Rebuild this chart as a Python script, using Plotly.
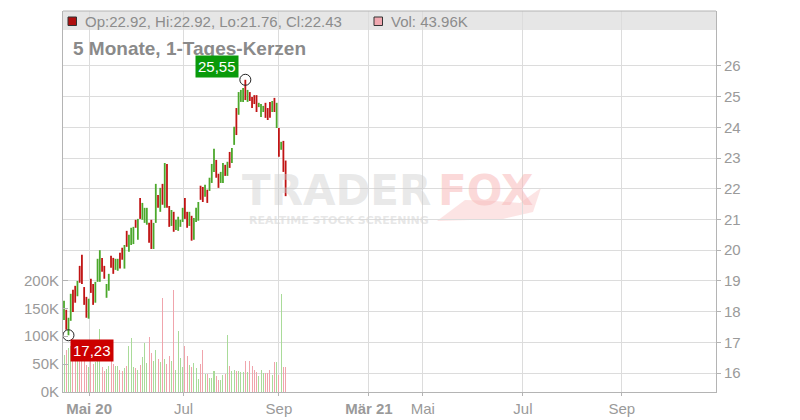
import plotly.graph_objects as go

# ---------------- data ----------------
opens = [17.80, 18.00, 17.35, 17.75, 18.65, 18.80, 18.55, 19.45, 19.80, 18.75,
         18.45, 17.85, 19.02, 18.85, 18.35, 19.02, 19.05, 19.70, 19.45, 18.50,
         18.75, 19.78, 19.70, 19.40, 19.38, 19.88, 20.05, 19.45, 20.58, 20.00,
         20.22, 20.25, 20.95, 20.40, 21.65, 21.05, 20.95, 20.88, 20.85, 20.95,
         20.10, 20.95, 21.75, 21.30, 22.10, 21.45, 22.75, 21.40, 20.85, 21.20,
         20.70, 20.68, 20.80, 20.96, 21.65, 21.20, 20.84, 21.08, 20.40, 20.97,
         21.00, 22.05, 22.02, 21.78, 21.93, 21.97, 22.24, 22.60, 22.90, 22.45,
         22.24, 22.25, 22.74, 22.46, 23.15, 22.88, 23.48, 24.58, 24.46, 24.88,
         24.88, 25.50, 24.88, 25.10, 24.95, 25.00, 25.00, 24.68, 24.38, 24.52,
         24.75, 24.58, 24.78, 24.54, 24.92, 24.02, 23.94, 23.30, 23.52, 22.92]
highs = [18.35, 18.06, 17.80, 18.58, 18.71, 18.84, 19.00, 19.49, 19.85, 18.80,
         18.48, 18.42, 19.07, 18.90, 18.97, 19.72, 20.00, 19.75, 19.49, 18.90,
         19.23, 19.82, 19.75, 19.72, 19.72, 19.92, 20.08, 20.17, 20.63, 20.50,
         20.73, 20.76, 20.99, 21.02, 21.70, 21.54, 21.38, 21.38, 20.89, 20.99,
         20.89, 22.16, 21.80, 22.03, 22.16, 22.84, 22.81, 21.44, 21.31, 21.25,
         20.99, 21.09, 20.99, 21.38, 21.70, 21.25, 21.25, 21.12, 21.05, 21.38,
         21.57, 22.10, 22.06, 22.13, 21.97, 22.36, 22.81, 23.30, 22.94, 22.49,
         22.55, 22.84, 22.78, 22.88, 23.20, 23.33, 24.02, 24.63, 25.15, 25.22,
         25.28, 25.55, 25.22, 25.15, 24.99, 25.05, 25.05, 24.80, 24.76, 24.70,
         24.80, 24.63, 24.83, 24.86, 24.96, 24.80, 23.98, 23.53, 23.56, 22.92]
lows = [17.73, 17.41, 17.23, 17.70, 17.99, 18.29, 18.50, 18.94, 18.90, 18.22,
        17.80, 17.77, 18.61, 18.22, 18.29, 18.97, 18.97, 19.30, 19.07, 18.45,
        18.68, 19.43, 19.23, 19.36, 19.33, 19.40, 19.69, 19.40, 20.11, 19.95,
        20.17, 20.20, 20.73, 20.34, 21.02, 20.99, 20.89, 20.83, 20.24, 20.04,
        20.04, 20.89, 21.38, 21.25, 21.48, 21.38, 21.38, 20.76, 20.79, 20.60,
        20.66, 20.63, 20.76, 20.92, 21.02, 20.73, 20.79, 20.31, 20.34, 20.92,
        20.96, 21.64, 21.57, 21.74, 21.54, 21.93, 22.19, 22.55, 22.36, 22.03,
        22.19, 22.19, 22.42, 22.42, 22.68, 22.84, 23.43, 23.75, 24.41, 24.83,
        24.83, 24.89, 24.83, 24.86, 24.63, 24.76, 24.50, 24.66, 24.34, 24.50,
        24.31, 24.24, 24.31, 24.50, 24.50, 23.98, 23.04, 23.27, 22.55, 21.76]
closes = [18.20, 17.55, 17.72, 18.45, 18.10, 18.35, 18.92, 19.02, 18.95, 18.30,
          17.90, 18.35, 18.68, 18.30, 18.90, 19.65, 19.90, 19.38, 19.12, 18.85,
          19.18, 19.50, 19.30, 19.66, 19.65, 19.45, 19.75, 20.10, 20.18, 20.45,
          20.68, 20.70, 20.78, 20.96, 21.08, 21.48, 21.32, 21.32, 20.30, 20.10,
          20.82, 22.05, 21.45, 21.95, 21.55, 22.75, 21.45, 20.82, 21.25, 20.66,
          20.94, 21.03, 20.95, 21.33, 21.08, 20.80, 21.20, 20.38, 20.98, 21.32,
          21.50, 21.70, 21.62, 22.08, 21.60, 22.30, 22.75, 23.20, 22.42, 22.08,
          22.50, 22.78, 22.48, 22.82, 22.74, 23.28, 23.95, 23.82, 25.08, 25.16,
          25.22, 24.95, 25.16, 24.92, 24.68, 24.80, 24.56, 24.78, 24.70, 24.66,
          24.36, 24.30, 24.36, 24.80, 24.56, 24.72, 23.10, 23.48, 22.62, 22.43]
volumes_k = [67, 76, 79, 82, 72, 66, 78, 62, 70, 55,
             48, 44, 58, 50, 54, 57, 113, 45, 38, 42,
             46, 58, 50, 47, 47, 40, 37, 43, 47, 83,
             96, 44, 43, 40, 49, 63, 87, 52, 98, 70,
             56, 75, 60, 53, 169, 60, 51, 65, 55, 183,
             40, 110, 61, 45, 82, 65, 48, 44, 52, 43,
             24, 50, 76, 32, 33, 26, 25, 37, 29, 22,
             22, 30, 33, 103, 46, 37, 40, 38, 37, 36,
             36, 56, 36, 56, 47, 40, 36, 28, 40, 34,
             34, 34, 40, 30, 54, 54, 30, 175, 45, 43.96]

tick_pos = [11.2, 53.4, 96.0, 136.2, 160.3, 205.0, 249.2]
tick_text = ["<b>Mai 20</b>", "Jul", "Sep", "<b>Mär 21</b>", "Mai", "Jul", "Sep"]
price_ticks = [16, 17, 18, 19, 20, 21, 22, 23, 24, 25, 26]
vol_ticks = [0, 50000, 100000, 150000, 200000]
vol_tick_text = ["0K", "50K", "100K", "150K", "200K"]
title_text = "5 Monate, 1-Tages-Kerzen"

# ---------------- styling ----------------
UP = "#4ca82c"
DOWN = "#c01414"
UP_VOL = "#a9db99"
DOWN_VOL = "#f0a4ac"
GRID = "#dcdcdc"
AXIS = "#b4b4b4"
TXT = "#9a9a9a"
FONT = "Liberation Sans, Arial, sans-serif"

W, H = 800, 420
ML, MR, MT, MB = 63, 84, 11, 28
PW, PH = W - ML - MR, H - MT - MB


def px(x):
    return (x - ML) / PW


def py(y):
    return (H - MB - y) / PH


idx = list(range(len(closes)))
volumes = [v * 1000 for v in volumes_k]
vol_colors = [UP_VOL if c >= o else DOWN_VOL for o, c in zip(opens, closes)]

fig = go.Figure()

fig.add_trace(go.Bar(x=idx, y=volumes, marker=dict(color=vol_colors, line=dict(width=0)),
                     width=0.45, yaxis="y", hoverinfo="skip", showlegend=False))

fig.add_trace(go.Ohlc(x=idx, open=opens, high=highs, low=lows, close=closes,
                      increasing=dict(line=dict(color=UP, width=1.8)),
                      decreasing=dict(line=dict(color=DOWN, width=1.8)),
                      tickwidth=0, yaxis="y2", hoverinfo="skip", showlegend=False))

hi_i = max(idx, key=lambda i: highs[i])
lo_i = min(idx, key=lambda i: lows[i])
fig.add_trace(go.Scatter(x=[hi_i, lo_i], y=[highs[hi_i], lows[lo_i]], mode="markers",
                         marker=dict(symbol="circle-open", size=11, color="#222",
                                     line=dict(width=1, color="#222")),
                         yaxis="y2", hoverinfo="skip", showlegend=False))

shapes = [
    dict(type="rect", xref="paper", yref="paper", x0=0, x1=1, y0=py(30), y1=1,
         fillcolor="#e6e6e6", line=dict(width=0), layer="below"),
    dict(type="line", xref="paper", yref="paper", x0=0, x1=1, y0=1, y1=1,
         line=dict(color=AXIS, width=1)),
    dict(type="rect", xref="paper", yref="paper", x0=px(68), x1=px(76.5), y0=py(25.5), y1=py(17),
         fillcolor="#b01010", line=dict(color="#333", width=1)),
    dict(type="rect", xref="paper", yref="paper", x0=px(374), x1=px(382.5), y0=py(25.5), y1=py(17),
         fillcolor="#f0a8b0", line=dict(color="#333", width=1)),
]

# fox tail of watermark (rough)
tail_pts = [(437, 221), (465, 200), (495, 201), (520, 203), (541, 188),
            (533, 212), (503, 219), (470, 220)]
path = "M " + " L ".join(f"{px(a):.4f},{py(b):.4f}" for a, b in tail_pts) + " Z"
shapes.append(dict(type="path", xref="paper", yref="paper", path=path,
                   fillcolor="rgba(250,205,205,0.55)", line=dict(width=0), layer="below"))

last = len(closes) - 1
hdr = f"Op:{opens[last]:.2f}, Hi:{highs[last]:.2f}, Lo:{lows[last]:.2f}, Cl:{closes[last]:.2f}"
vol_hdr = f"Vol: {volumes_k[last]:.2f}K"

annotations = [
    dict(xref="paper", yref="paper", x=px(83), y=py(21), text=hdr, showarrow=False,
         xanchor="left", yanchor="middle", font=dict(family=FONT, size=15, color="#8c8c8c")),
    dict(xref="paper", yref="paper", x=px(389), y=py(21), text=vol_hdr, showarrow=False,
         xanchor="left", yanchor="middle", font=dict(family=FONT, size=15, color="#8c8c8c")),
    dict(xref="paper", yref="paper", x=px(71), y=py(48), text=f"<b>{title_text}</b>", showarrow=False,
         xanchor="left", yanchor="middle", font=dict(family=FONT, size=19, color="#8a8a8a")),
    dict(xref="x", yref="y2", x=hi_i, y=highs[hi_i], text=f"{highs[hi_i]:.2f}".replace(".", ","),
         showarrow=False, xanchor="right", yanchor="bottom", xshift=-6, yshift=2,
         bgcolor="#0a9a0a", borderpad=2, font=dict(family=FONT, size=15, color="white")),
    dict(xref="x", yref="y2", x=lo_i, y=lows[lo_i], text=f"{lows[lo_i]:.2f}".replace(".", ","),
         showarrow=False, xanchor="left", yanchor="top", xshift=2, yshift=-4,
         bgcolor="#cc0000", borderpad=2, font=dict(family=FONT, size=15, color="white")),
    dict(xref="paper", yref="paper", x=px(240), y=py(190), text="<b>TRADER</b>", showarrow=False,
         xanchor="left", yanchor="middle",
         font=dict(family="DejaVu Sans", size=42, color="rgba(205,205,205,0.45)")),
    dict(xref="paper", yref="paper", x=px(436), y=py(190), text="<b>FOX</b>", showarrow=False,
         xanchor="left", yanchor="middle",
         font=dict(family="DejaVu Sans", size=42, color="rgba(248,185,185,0.55)")),
    dict(xref="paper", yref="paper", x=px(339), y=py(220), text="<b>REALTIME STOCK SCREENING</b>",
         showarrow=False, xanchor="center", yanchor="middle",
         font=dict(family="DejaVu Sans", size=11, color="rgba(215,215,215,0.6)")),
]

fig.update_layout(
    width=W, height=H,
    margin=dict(l=ML, r=MR, t=MT, b=MB, pad=0, autoexpand=False),
    paper_bgcolor="white", plot_bgcolor="white",
    showlegend=False, bargap=0,
    font=dict(family=FONT, size=15, color=TXT),
    xaxis=dict(range=[-0.45, 291.25], tickmode="array", tickvals=tick_pos, ticktext=tick_text,
               showgrid=True, gridcolor=GRID, gridwidth=1, zeroline=False,
               showline=True, linecolor=AXIS, linewidth=1,
               ticks="outside", ticklen=3, tickcolor=AXIS, automargin=False,
               tickfont=dict(family=FONT, size=15, color=TXT),
               rangeslider=dict(visible=False), fixedrange=True),
    yaxis=dict(range=[0, 683300], tickmode="array", tickvals=vol_ticks, ticktext=vol_tick_text,
               side="left", showgrid=False, zeroline=False, automargin=False,
               showline=True, linecolor=AXIS, linewidth=1,
               ticks="inside", ticklen=5, tickcolor=AXIS,
               tickfont=dict(family=FONT, size=15, color=TXT)),
    yaxis2=dict(range=[15.382, 27.79], tickmode="array", tickvals=price_ticks,
                overlaying="y", side="right", showgrid=True, gridcolor=GRID, gridwidth=1,
                zeroline=False, showline=True, linecolor=AXIS, linewidth=1, automargin=False,
                ticks="outside", ticklen=4, tickcolor=AXIS,
                tickfont=dict(family=FONT, size=15, color=TXT)),
    shapes=shapes,
    annotations=annotations,
)

fig.write_html("out.html", config={"displayModeBar": False, "staticPlot": True},
               post_script="document.body.style.margin='0';document.body.style.overflow='hidden';")
